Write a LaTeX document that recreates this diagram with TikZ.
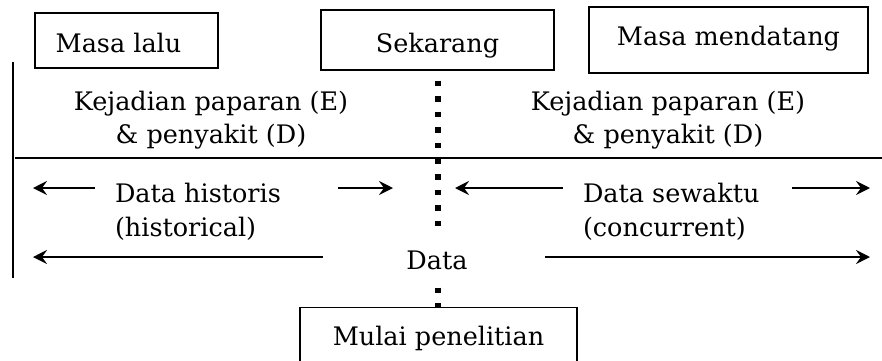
\documentclass[tikz,border=0pt]{standalone}
\usepackage{fontspec}
\setmainfont{DejaVu Serif}
\usetikzlibrary{arrows.meta}
\begin{document}
\begin{tikzpicture}[x=1pt,y=-1pt,
  every node/.style={font=\fontsize{25.5}{33}\selectfont, inner sep=0pt, outer sep=0pt},
  boxnode/.style={draw, line width=1.6pt, anchor=base},
  txt/.style={anchor=base},
  arr/.style={line width=2.4pt, -{Stealth[length=14pt,width=14pt,inset=5pt]}},
  rule/.style={line width=1.8pt},
  dots/.style={line width=5.5pt, dash pattern=on 5.5pt off 10.1pt}]
\useasboundingbox (0,0) rectangle (882,360);
\clip (0,0) rectangle (882,360);
% boxes
\node[boxnode, minimum width=183pt, text height=39pt, text depth=16pt] (lalu) at (126.5,52) {Masa lalu\kern16pt};
\node[boxnode, minimum width=233pt, text height=42pt, text depth=18pt] (sekarang) at (437.5,52) {Sekarang};
\node[boxnode, minimum width=279pt, text height=38pt, text depth=28pt] (mendatang) at (728.5,45) {Masa mendatang};
\node[boxnode, minimum width=277pt, text height=37.5pt, text depth=30pt] (mulai) at (438.5,345) {Mulai penelitian};
% texts
\node[txt] (kejL1) at (211,110) {Kejadian paparan (E)};
\node[txt] (kejL2) at (211,143) {\& penyakit (D)};
\node[txt] (kejR1) at (668,110) {Kejadian paparan (E)};
\node[txt] (kejR2) at (668,143) {\& penyakit (D)};
\node[txt, anchor=base west] (hist1) at (115,202) {Data historis};
\node[txt, anchor=base west] (hist2) at (115,236) {(historical)};
\node[txt, anchor=base west] (sew1) at (583,202) {Data sewaktu};
\node[txt, anchor=base west] (sew2) at (583,236) {(concurrent)};
\node[txt] (data) at (437,269) {Data};
% rules
\coordinate (vtop) at (13,62);
\coordinate (vbot) at (13,278);
\coordinate (hl) at (15,158);
\coordinate (hr) at (882,158);
\draw[rule] (vtop) -- (vbot);
\draw[rule] (hl) -- (hr);
% dotted time line
\coordinate (d1) at (438,80.5);
\coordinate (d2) at (438,230);
\coordinate (d3) at (438,287.5);
\draw[dots] (d1) -- (d2);
\draw[dots] (d3) -- (mulai.north -| d3);
% arrows
\coordinate (a1s) at (95,188);   \coordinate (a1e) at (33,188);
\coordinate (a2s) at (338,188);  \coordinate (a2e) at (393,188);
\coordinate (a3s) at (563,188);  \coordinate (a3e) at (455,188);
\coordinate (a4s) at (792,188);  \coordinate (a4e) at (870,188);
\coordinate (a5s) at (323,257);  \coordinate (a5e) at (33,257);
\coordinate (a6s) at (545,257);  \coordinate (a6e) at (870,257);
\draw[arr] (a1s) -- (a1e);
\draw[arr] (a2s) -- (a2e);
\draw[arr] (a3s) -- (a3e);
\draw[arr] (a4s) -- (a4e);
\draw[arr] (a5s) -- (a5e);
\draw[arr] (a6s) -- (a6e);
\end{tikzpicture}
\end{document}
